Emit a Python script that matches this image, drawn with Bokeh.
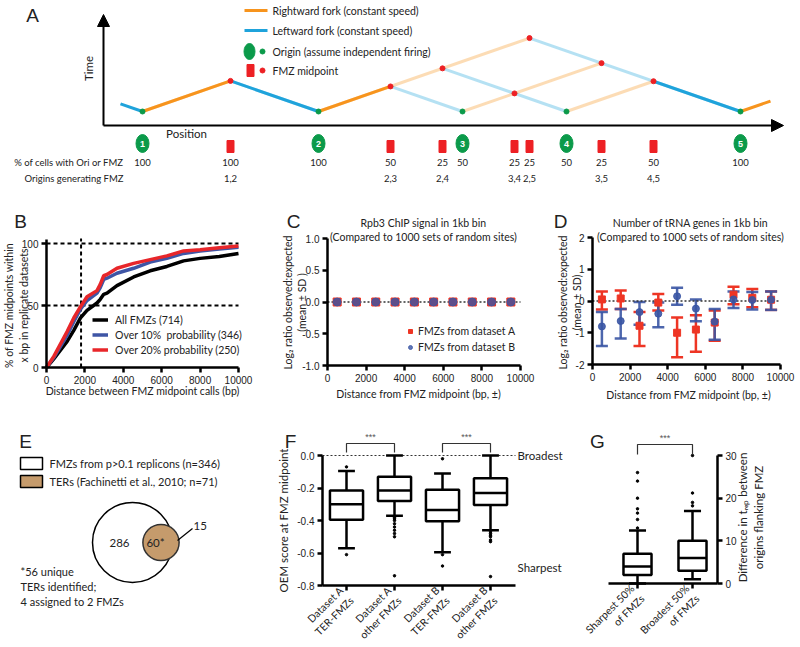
import math
import numpy as np
from bokeh.plotting import figure
from bokeh.models import (Range1d, Label, Arrow, NormalHead, FixedTicker, Whisker,
                          TeeHead, ColumnDataSource, Legend, LegendItem, LinearAxis)
from bokeh.layouts import column, row
from bokeh.embed import file_html
from bokeh.resources import INLINE
from bokeh.core.properties import value

TXT = "Lato"
NUM = "Liberation Sans"
ORANGE = "#F7941D"; BLUE = "#1FA3DB"; GREEN = "#0B9A4A"; RED = "#ED2024"
D_RED = "#EE3524"; D_BLUE = "#3A55A4"; TAN = "#C59B6C"; INK = "#222222"

# ---------------- data ----------------
# Panel A (schematic)
ori_labels = ["1", "2", "3", "4", "5"]
ori_pos = [39, 215, 359, 463, 637]
ori_pct = [100, 100, 50, 50, 100]
fmz_left = [1, 2, 2, 3, 2, 3, 4]
fmz_right = [2, 3, 4, 4, 5, 5, 5]
fmz_pct = [100, 50, 25, 25, 25, 25, 50]
fork_time_per_pos = 0.348
lead_in_pos = 17
tail_pos = 667
legendA = ["Rightward fork (constant speed)", "Leftward fork (constant speed)",
           "Origin (assume independent firing)", "FMZ midpoint"]
rowA = ["% of cells with Ori or FMZ", "Origins generating FMZ"]

# Panel B
b_dist = [0, 380, 1075, 1420, 1770, 2110, 2630, 2800, 2980, 3150, 3670, 4540,
          5400, 6270, 7140, 8000, 9000, 10000]
b_all = [0, 7, 21, 30, 40, 46, 52, 55, 59, 60, 66, 73, 78, 81.5, 86, 88, 89.5, 92]
b_p10 = [0, 8, 26, 37, 47, 54, 60, 64.5, 71, 72, 76, 80, 85, 88, 92, 94, 95.5, 97]
b_p20 = [0, 9, 29, 40, 49, 57, 62, 67, 74, 75, 80, 84, 87, 90, 94, 95, 96.5, 98]
b_names = ["All FMZs (714)", "Over 10%  probability (346)", "Over 20% probability (250)"]
b_ref_x = 1800
b_ref_y = [50, 100]
b_xticks = [0, 2000, 4000, 6000, 8000, 10000]
b_yticks = [0, 50, 100]

# Panel C
c_dist = [500, 1500, 2500, 3500, 4500, 5500, 6500, 7500, 8500, 9500]
c_a_mean = [0.0, 0.0, 0.0, 0.0, 0.0, 0.0, 0.0, 0.0, 0.0, 0.0]
c_b_mean = [0.0, 0.0, 0.0, 0.0, 0.0, 0.0, 0.0, 0.0, 0.0, 0.0]
c_yticks = [-1.0, -0.5, 0.0, 0.5, 1.0]
c_ylabels = ["-1.0", "-0.5", "0.0", "0.5", "1.0"]

# Panel D
d_dist = [500, 1500, 2500, 3500, 4500, 5500, 6500, 7500, 8500, 9500]
d_a_mean = [0.05, 0.08, -0.78, -0.05, -1.0, -0.9, -0.68, 0.2, 0.1, 0.04]
d_a_hi = [0.3, 0.33, -0.35, 0.22, -0.52, -0.45, -0.3, 0.45, 0.38, 0.3]
d_a_lo = [-0.27, -0.25, -1.42, -0.3, -1.77, -1.6, -1.25, -0.1, -0.2, -0.28]
d_b_mean = [-0.8, -0.63, -0.35, -0.4, 0.15, -0.24, -0.65, 0.05, 0.03, 0.04]
d_b_hi = [-0.35, -0.25, -0.03, -0.05, 0.42, 0.05, -0.25, 0.3, 0.28, 0.3]
d_b_lo = [-1.42, -1.18, -0.75, -0.83, -0.12, -0.64, -1.22, -0.22, -0.27, -0.28]
d_yticks = [-2, -1, 0, 1, 2]
d_ylabels = ["-2", "-1", "0", "1", "2"]

# Panel E (Venn)
e_fmz_total = 346
e_ter_total = 71
e_only_fmz = 286
e_overlap = 60
e_only_ter = 15
e_legend = ["FMZs from p>0.1 replicons (n=346)", "TERs (Fachinetti et al., 2010; n=71)"]
e_note = ["*56 unique", "TERs identified;", "4 assigned to 2 FMZs"]

# Panel F (box plots)
f_labels = ["Dataset A\nTER-FMZs", "Dataset A\nother FMZs", "Dataset B\nTER-FMZs", "Dataset B\nother FMZs"]
f_lo = [-0.57, -0.37, -0.595, -0.46]
f_q1 = [-0.395, -0.28, -0.405, -0.305]
f_med = [-0.30, -0.215, -0.335, -0.23]
f_q3 = [-0.215, -0.13, -0.21, -0.14]
f_hi = [-0.095, 0.0, -0.11, 0.0]
f_out = [[-0.07, -0.61],
         [-0.38, -0.39, -0.40, -0.42, -0.44, -0.46, -0.48, -0.50, -0.74],
         [-0.02, -0.61, -0.68],
         [-0.47, -0.48, -0.49, -0.50, -0.52, -0.53, -0.745]]
f_yticks = [-0.8, -0.6, -0.4, -0.2, 0.0]
f_ylabels = ["-0.8", "-0.6", "-0.4", "-0.2", "0.0"]

# Panel G (box plots)
g_labels = ["Sharpest 50%\nof FMZs", "Broadest 50%\nof FMZs"]
g_lo = [0, 1]
g_q1 = [2, 3]
g_med = [4, 6]
g_q3 = [7, 10]
g_hi = [12.4, 17]
g_out = [[13, 15, 16.5, 17.5, 20, 24, 26], [18.2, 19, 21.2, 30]]
g_yticks = [0, 10, 20, 30]


# ---------------- helpers ----------------
class Geo:
    """Maps page pixels to data units; the frame covers the whole figure."""
    def __init__(s, ox, oy, w, h, xa, xb, ya, yb):
        s.ox, s.oy, s.w, s.h = ox, oy, w, h
        s.kx = (xb[1] - xa[1]) / (xb[0] - xa[0]); s.x0 = xa[1] - xa[0] * s.kx
        s.ky = (yb[1] - ya[1]) / (yb[0] - ya[0]); s.y0 = ya[1] - ya[0] * s.ky

    def d(s, px, py):
        return s.x0 + px * s.kx, s.y0 + py * s.ky

    def xr(s):
        return (s.x0 + s.ox * s.kx, s.x0 + (s.ox + s.w) * s.kx)

    def yr(s):
        return (s.y0 + (s.oy + s.h) * s.ky, s.y0 + s.oy * s.ky)


def base_fig(g, **kw):
    p = figure(width=g.w, height=g.h, x_range=Range1d(*g.xr()), y_range=Range1d(*g.yr()),
               output_backend="svg", toolbar_location=None, min_border=0,
               x_axis_type=None, y_axis_type=None, **kw)
    p.outline_line_color = None
    return p


def lab(p, g, px, py, text, size="10.5px", font=TXT, align="center",
        baseline="middle", angle=0.0, color=INK):
    x, y = g.d(px, py)
    p.add_layout(Label(x=x, y=y, text=text, text_font=font, text_font_size=size,
                       text_align=align, text_baseline=baseline, angle=angle,
                       text_color=color))


def add_axis(p, side, loc, bounds, ticks, labels=None, size="10px", font=NUM):
    ax = LinearAxis(fixed_location=loc, bounds=bounds)
    ax.ticker = FixedTicker(ticks=ticks)
    if labels is not None:
        ax.major_label_overrides = {t: l for t, l in zip(ticks, labels)}
    ax.axis_line_width = 2.5
    ax.axis_line_color = "black"
    ax.major_tick_line_width = 2.5
    ax.major_tick_line_color = "black"
    ax.major_tick_out = 5
    ax.major_tick_in = 0
    ax.minor_tick_line_color = None
    ax.major_label_text_font = font
    ax.major_label_text_font_size = size
    ax.major_label_text_color = INK
    ax.major_label_standoff = 3
    p.add_layout(ax, side)
    return ax


# ---------------- Panel A ----------------
gA = Geo(0, 0, 796, 200, (103, 0), (104, 1), (111, 0), (112, -1))
pA = base_fig(gA)
k = fork_time_per_pos
ox = ori_pos
mids_x = [(ox[l - 1] + ox[r - 1]) / 2 for l, r in zip(fmz_left, fmz_right)]
mids_t = [(ox[r - 1] - ox[l - 1]) / 2 * k for l, r in zip(fmz_left, fmz_right)]

light = dict(x0=[], y0=[], x1=[], y1=[], c=[])
solid = dict(x0=[], y0=[], x1=[], y1=[], c=[])


def add_seg(dct, x0, x1, c):
    dct["x0"].append(x0); dct["y0"].append(0.0)
    dct["x1"].append(x1); dct["y1"].append(abs(x1 - x0) * k)
    dct["c"].append(c)


for i in range(len(ox)):
    o = ox[i]
    rights = [m for m, l in zip(mids_x, fmz_left) if l == i + 1]
    lefts = [m for m, r in zip(mids_x, fmz_right) if r == i + 1]
    if rights:
        add_seg(light, o, max(rights), ORANGE)
        if ori_pct[i] == 100:
            add_seg(solid, o, min(rights), ORANGE)
    if lefts:
        add_seg(light, o, min(lefts), BLUE)
        if ori_pct[i] == 100:
            add_seg(solid, o, max(lefts), BLUE)
add_seg(solid, ox[0], lead_in_pos, BLUE)
add_seg(solid, ox[-1], tail_pos, ORANGE)

pA.segment("x0", "y0", "x1", "y1", color="c", line_width=3, line_alpha=0.33,
           source=ColumnDataSource(light))
pA.segment("x0", "y0", "x1", "y1", color="c", line_width=3,
           source=ColumnDataSource(solid))
pA.scatter(ox, [0] * len(ox), size=5, color=GREEN)
pA.scatter(mids_x, mids_t, size=5, color=RED)

head = dict(size=12, fill_color="black", line_color="black")
pA.add_layout(Arrow(end=NormalHead(**head), x_start=0, y_start=-14, x_end=680,
                    y_end=-14, line_width=2))
pA.add_layout(Arrow(end=NormalHead(**head), x_start=0, y_start=-14, x_end=0,
                    y_end=97, line_width=2))
lab(pA, gA, 88, 68, "Time", size="11.5px", angle=math.pi / 2)
lab(pA, gA, 186, 133, "Position", size="11.5px")
lab(pA, gA, 32, 15, "A", size="19px", font=NUM)

# legend of A
ly = [10, 30, 51, 70]
lt = [111 - v for v in ly]
pA.segment([141, 141], lt[:2], [164, 164], lt[:2], color=[ORANGE, BLUE], line_width=3)
pA.ellipse([146], [lt[2]], width=11, height=16, color=GREEN)
pA.scatter([159], [lt[2]], size=5, color=GREEN)
pA.rect([147], [lt[3]], width=7, height=12, color=RED)
pA.scatter([159], [lt[3]], size=5, color=RED)
pA.text([169] * 4, lt, text=legendA, text_font=value(TXT), text_font_size="10.5px",
        text_baseline="middle", text_color=INK)

# marker rows
t_mark, t_row1, t_row2 = 111 - 143, 111 - 162, 111 - 178
pA.ellipse(ox, [t_mark] * len(ox), width=13, height=18, color=GREEN)
pA.text(ox, [t_mark] * len(ox), text=ori_labels, text_font=value(NUM),
        text_font_size="9px", text_font_style="bold", text_color="white",
        text_align="center", text_baseline="middle")
pA.rect(mids_x, [t_mark - 3] * len(mids_x), width=7, height=12, color=RED)
common = dict(text_font=value(TXT), text_font_size="9.5px", text_align="center",
              text_baseline="middle", text_color=INK)
pA.text(ox, [t_row1] * len(ox), text=[str(v) for v in ori_pct], **common)
pA.text(mids_x, [t_row1] * len(mids_x), text=[str(v) for v in fmz_pct], **common)
pA.text(mids_x, [t_row2] * len(mids_x),
        text=[f"{l},{r}" for l, r in zip(fmz_left, fmz_right)], **common)
pA.text([20, 20], [t_row1, t_row2], text=rowA, text_font=value(TXT),
        text_font_size="9.5px", text_align="right", text_baseline="middle", text_color=INK)

# ---------------- Panel B ----------------
gB = Geo(0, 200, 270, 220, (46, 0), (238, 10000), (367, 0), (243, 100))
pB = base_fig(gB)
add_axis(pB, "below", 0, (0, 10000), b_xticks)
add_axis(pB, "left", 0, (0, 103.5), b_yticks)
pB.segment([0, 0], b_ref_y, [10000, 10000], b_ref_y, line_dash="4 3",
           line_width=2, line_color="black")
pB.segment([b_ref_x], [0], [b_ref_x], [104], line_dash="4 3", line_width=2,
           line_color="black")
rB = [pB.line(b_dist, ys, line_width=3.5, color=c)
      for ys, c in zip([b_all, b_p10, b_p20], ["black", "#3E55A5", "#E8262A"])]
legB = Legend(items=[LegendItem(label=n, renderers=[r]) for n, r in zip(b_names, rB)],
              location=(92, 63), glyph_width=16, glyph_height=15, label_height=15,
              spacing=0, padding=0, margin=0, label_standoff=7,
              border_line_color=None, background_fill_alpha=0,
              label_text_font=TXT, label_text_font_size="10.5px", label_text_color=INK)
pB.add_layout(legB)
lab(pB, gB, 20, 221, "B", size="19px", font=NUM)
lab(pB, gB, 8, 305, "% of FMZ midpoints within", angle=math.pi / 2)
lab(pB, gB, 23, 305, "x bp in replicate datasets", angle=math.pi / 2)
lab(pB, gB, 142, 390, "Distance between FMZ midpoint calls (bp)")

# ---------------- Panel C ----------------
gC = Geo(270, 200, 265, 220, (327, 0), (520, 10000), (365, -1), (238, 1))
pC = base_fig(gC)
add_axis(pC, "below", -1, (0, 10000), b_xticks)
add_axis(pC, "left", 0, (-1, 1), c_yticks, c_ylabels)
pC.segment([0], [0], [10000], [0], line_dash="2 2", line_width=1.3, line_color="#333333")
rCa = pC.scatter(c_dist, c_a_mean, marker="square", size=8, color=D_RED)
rCb = pC.scatter(c_dist, c_b_mean, marker="circle", size=8, color=D_BLUE, alpha=0.8)
legC = Legend(items=[LegendItem(label="FMZs from dataset A", renderers=[rCa]),
                     LegendItem(label="FMZs from dataset B", renderers=[rCb])],
              location=(135, 65), glyph_width=10, glyph_height=16, label_height=16,
              spacing=0, padding=0, margin=0, label_standoff=3,
              border_line_color=None, background_fill_alpha=0,
              label_text_font=TXT, label_text_font_size="10.5px", label_text_color=INK)
pC.add_layout(legC)
lab(pC, gC, 293, 221, "C", size="19px", font=NUM)
lab(pC, gC, 423, 222, "Rpb3 ChIP signal in 1kb bin")
lab(pC, gC, 423, 236, "(Compared to 1000 sets of random sites)")
lab(pC, gC, 287, 302, "Log\u2082 ratio observed:expected", angle=math.pi / 2)
lab(pC, gC, 301, 302, "(mean \u00b1 SD )", angle=math.pi / 2)
lab(pC, gC, 418, 393, "Distance from FMZ midpoint (bp, \u00b1)")

# ---------------- Panel D ----------------
gD = Geo(535, 200, 261, 220, (592, 0), (780, 10000), (364, -2), (237, 2))
pD = base_fig(gD)
add_axis(pD, "below", -2, (0, 10000), b_xticks)
add_axis(pD, "left", 0, (-2, 2), d_yticks, d_ylabels)
pD.segment([0], [0], [10000], [0], line_dash="2 2", line_width=1.3, line_color="#333333")
srcDa = ColumnDataSource(dict(x=d_dist, m=d_a_mean, hi=d_a_hi, lo=d_a_lo))
srcDb = ColumnDataSource(dict(x=d_dist, m=d_b_mean, hi=d_b_hi, lo=d_b_lo))
for src, col, a in [(srcDa, D_RED, 1.0), (srcDb, D_BLUE, 0.9)]:
    pD.add_layout(Whisker(source=src, base="x", upper="hi", lower="lo",
                          line_color=col, line_width=2.5, line_alpha=a,
                          upper_head=TeeHead(size=12, line_color=col, line_width=2.5, line_alpha=a),
                          lower_head=TeeHead(size=12, line_color=col, line_width=2.5, line_alpha=a)))
pD.scatter("x", "m", source=srcDa, marker="square", size=7, color=D_RED)
pD.scatter("x", "m", source=srcDb, marker="circle", size=7, color=D_BLUE, alpha=0.9)
lab(pD, gD, 560, 221, "D", size="19px", font=NUM)
lab(pD, gD, 690, 222, "Number of tRNA genes in 1kb bin")
lab(pD, gD, 690, 236, "(Compared to 1000 sets of random sites)")
lab(pD, gD, 562, 302, "Log\u2082 ratio observed:expected", angle=math.pi / 2)
lab(pD, gD, 576, 302, "(mean \u00b1 SD)", angle=math.pi / 2)
lab(pD, gD, 688, 394, "Distance from FMZ midpoint (bp, \u00b1)")

# ---------------- Panel E ----------------
gE = Geo(0, 420, 267, 223, (0, 0), (1, 1), (643, 0), (642, 1))
pE = base_fig(gE)
e_rows = [gE.d(31, 463), gE.d(31, 481)]
pE.rect([p[0] for p in e_rows], [p[1] for p in e_rows], width=22, height=12,
        fill_color=["white", TAN], line_color="black", line_width=1.5)
for (x, y), t in zip(e_rows, e_legend):
    pE.add_layout(Label(x=x + 18, y=y, text=t, text_font=TXT, text_font_size="11px",
                        text_baseline="middle", text_color=INK))
kr = 40 / math.sqrt(346)
r_big = kr * math.sqrt(e_fmz_total)
r_small = kr * math.sqrt(e_ter_total)
cx, cy = gE.d(132, 542)
pE.circle([cx], [cy], radius=r_big, fill_color="white", line_color="black", line_width=1.5)
pE.circle([cx + 28.5], [cy], radius=r_small, fill_color=TAN, line_color="#333333", line_width=1.5)
pE.text([cx - 13, cx + 23], [cy, cy], text=[str(e_only_fmz), f"{e_overlap}*"],
        text_font=value(TXT), text_font_size="11.5px", text_align="center",
        text_baseline="middle", text_color=INK)
x0, y0 = gE.d(177, 540); x1, y1 = gE.d(192, 528)
pE.segment([x0], [y0], [x1], [y1], line_color="black", line_width=1.2)
lab(pE, gE, 193, 525, str(e_only_ter), size="11.5px", align="left")
for i, t in enumerate(e_note):
    lab(pE, gE, 20, 571 + 15 * i, t, size="11px", align="left")
lab(pE, gE, 25, 441, "E", size="19px", font=NUM)


# ---------------- box helper ----------------
def boxplot(p, pos, lo, q1, med, q3, hi, outs, bw, cw):
    pos = np.array(pos, dtype=float)
    p.segment(pos, q3, pos, hi, line_color="black", line_width=2.5)
    p.segment(pos, q1, pos, lo, line_color="black", line_width=2.5)
    p.segment(pos - cw / 2, hi, pos + cw / 2, hi, line_color="black", line_width=2.5)
    p.segment(pos - cw / 2, lo, pos + cw / 2, lo, line_color="black", line_width=2.5)
    p.vbar(x=pos, bottom=q1, top=q3, width=bw, fill_color="white",
           line_color="black", line_width=2.5)
    p.segment(pos - bw / 2, med, pos + bw / 2, med, line_color="black", line_width=2.5)
    xs = [x for x, o in zip(pos, outs) for _ in o]
    ys = [v for o in outs for v in o]
    p.scatter(xs, ys, size=2.5, color="black")


# ---------------- Panel F ----------------
gF = Geo(267, 420, 297, 223, (346, 1), (490, 4), (455, 0), (585, -0.8))
pF = base_fig(gF)
f_pos = [1, 2, 3, 4]
fx_left = gF.d(322, 0)[0]
fx_right = gF.d(515, 0)[0]
axF = add_axis(pF, "below", -0.8, (fx_left, fx_right), f_pos, f_labels, size="10.5px", font=TXT)
axF.major_label_orientation = math.pi / 4
add_axis(pF, "left", fx_left, (-0.8, 0.0), f_yticks, f_ylabels)
pF.segment([fx_left], [0], [fx_right], [0], line_dash="2 2", line_width=1.2, line_color="#333333")
boxplot(pF, f_pos, f_lo, f_q1, f_med, f_q3, f_hi, f_out, 0.69, 0.35)
yb = gF.d(0, 452)[1]; yt = gF.d(0, 443)[1]; ys = gF.d(0, 436)[1]
for a, b in [(1, 2), (3, 4)]:
    pF.line([a, a, b, b], [yb, yt, yt, yb], line_color="#333333", line_width=1.2)
    pF.add_layout(Label(x=(a + b) / 2, y=ys, text="***", text_font=NUM, text_font_size="9px",
                        text_align="center", text_baseline="middle", text_color="#555555"))
lab(pF, gF, 290, 441, "F", size="19px", font=NUM)
lab(pF, gF, 283, 520, "OEM score at FMZ midpoint", size="11.5px", angle=math.pi / 2)
lab(pF, gF, 517, 455, "Broadest", size="11.5px", align="left")
lab(pF, gF, 517, 567, "Sharpest", size="11.5px", align="left")

# ---------------- Panel G ----------------
gG = Geo(564, 420, 232, 223, (637, 1), (692, 2), (583, 0), (455, 30))
pG = base_fig(gG)
g_pos = [1, 2]
gx_left = gG.d(608, 0)[0]
gx_right = gG.d(717, 0)[0]
axG = add_axis(pG, "below", 0, (gx_left, gx_right), g_pos, g_labels, size="10.5px", font=TXT)
axG.major_label_orientation = math.pi / 4
add_axis(pG, "right", gx_right, (0, 30), g_yticks)
boxplot(pG, g_pos, g_lo, g_q1, g_med, g_q3, g_hi, g_out, 0.51, 0.31)
yb = gG.d(0, 454)[1]; yt = gG.d(0, 444)[1]; ys = gG.d(0, 437)[1]
pG.line([1, 1, 2, 2], [yb, yt, yt, yb], line_color="#333333", line_width=1.2)
pG.add_layout(Label(x=1.5, y=ys, text="***", text_font=NUM, text_font_size="9px",
                    text_align="center", text_baseline="middle", text_color="#555555"))
lab(pG, gG, 597, 441, "G", size="19px", font=NUM)
lab(pG, gG, 742, 517, "Difference in t\u1d63\u2091\u209a between", size="11.5px", angle=math.pi / 2)
lab(pG, gG, 758, 517, "origins flanking FMZ", size="11.5px", angle=math.pi / 2)

layout = column(pA, row(pB, pC, pD), row(pE, pF, pG))
open("out.html", "w").write(file_html(layout, INLINE))
